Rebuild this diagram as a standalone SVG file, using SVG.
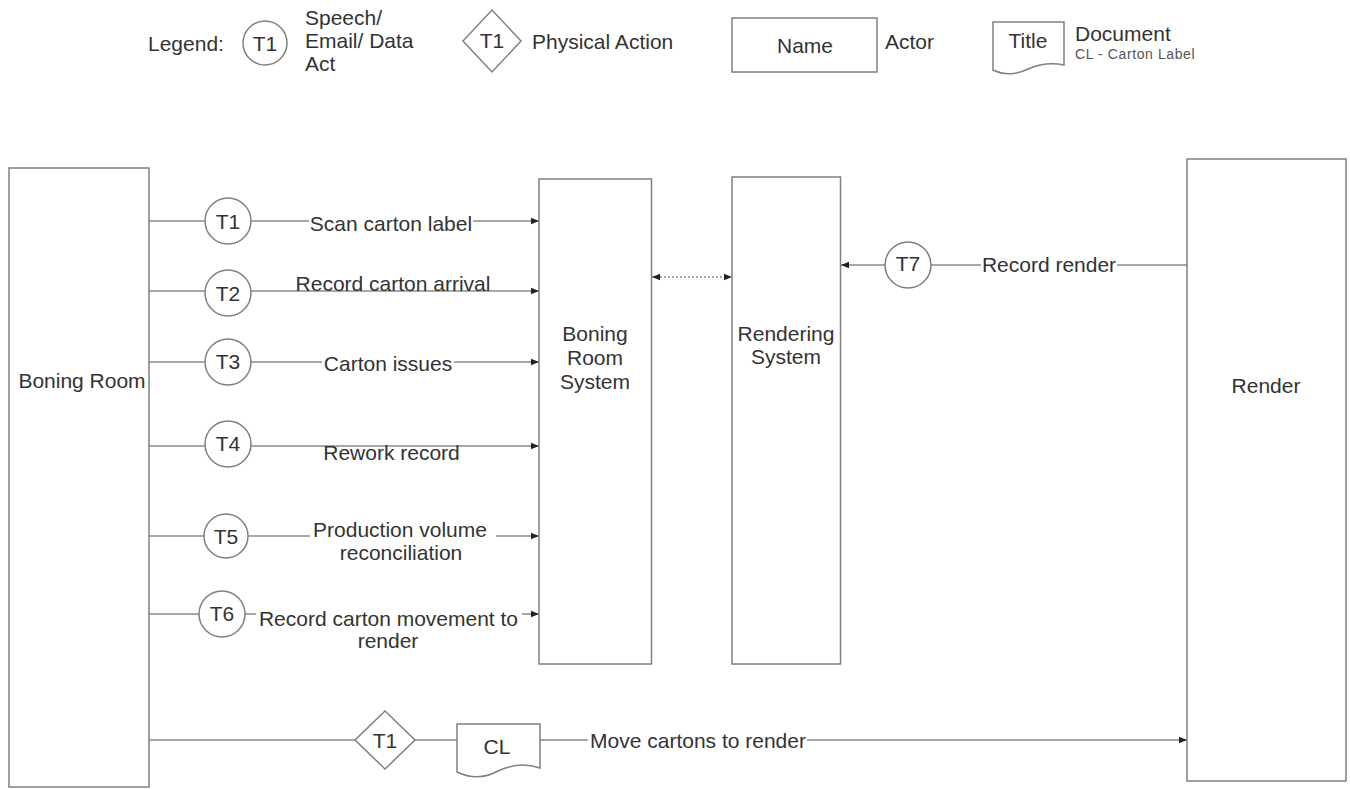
<svg xmlns="http://www.w3.org/2000/svg" width="1350" height="789" viewBox="0 0 1350 789">
<style>
.t{font-family:"Liberation Sans",Arial,sans-serif;font-size:21px;fill:#333}
.m{text-anchor:middle}
.sm{font-family:"Liberation Sans",Arial,sans-serif;font-size:14px;fill:#555;letter-spacing:0.6px}
.s{fill:#fff;stroke:#808080;stroke-width:1.5}
.c{stroke:#8a8a8a;stroke-width:1.5;fill:none}
.bg{fill:#fff}
</style>
<defs>
<marker id="a" viewBox="0 0 10 10" refX="10" refY="5" markerWidth="8" markerHeight="8" orient="auto-start-reverse" markerUnits="userSpaceOnUse"><path d="M0,1 L10,5 L0,9 Z" fill="#222"/></marker>
</defs>
<rect width="1350" height="789" fill="#fff"/>
<g id="legend">
<text class="t" x="148" y="51">Legend:</text>
<circle class="s" cx="265" cy="43" r="22"/>
<text class="t m" x="265" y="50.5">T1</text>
<text class="t" x="305" y="25">Speech/</text>
<text class="t" x="305" y="48">Email/ Data</text>
<text class="t" x="305" y="71">Act</text>
<path class="s" d="M492,10 L521,41 L492,72 L463,41 Z"/>
<text class="t m" x="492" y="48">T1</text>
<text class="t" x="532" y="49">Physical Action</text>
<rect class="s" x="732" y="18" width="145" height="54"/>
<text class="t m" x="805" y="53">Name</text>
<text class="t" x="885" y="49">Actor</text>
<path class="s" d="M993,22 H1064 V65 Q1046,61 1028,69 Q1010,78 993,70 Z"/>
<text class="t m" x="1028" y="48">Title</text>
<text class="t" x="1075" y="41">Document</text>
<text class="sm" x="1075" y="59">CL - Carton Label</text>
</g>
<g id="connectors">
<line class="c" x1="149" y1="221" x2="539" y2="221" marker-end="url(#a)"/>
<line class="c" x1="149" y1="291" x2="539" y2="291" marker-end="url(#a)"/>
<line class="c" x1="149" y1="362" x2="539" y2="362" marker-end="url(#a)"/>
<line class="c" x1="149" y1="446" x2="539" y2="446" marker-end="url(#a)"/>
<line class="c" x1="149" y1="536" x2="539" y2="536" marker-end="url(#a)"/>
<line class="c" x1="149" y1="614" x2="539" y2="614" marker-end="url(#a)"/>
<line class="c" x1="1187" y1="265" x2="841" y2="265" marker-end="url(#a)"/>
<line class="c" x1="652" y1="277" x2="732" y2="277" stroke-dasharray="2 2" marker-start="url(#a)" marker-end="url(#a)"/>
<line class="c" x1="149" y1="740" x2="1187" y2="740" marker-end="url(#a)"/>
<rect class="bg" x="309" y="213" width="164" height="22"/>
<text class="t m" x="391" y="231">Scan carton label</text>
<rect class="bg" x="294" y="273" width="198" height="16"/>
<text class="t m" x="393" y="291">Record carton arrival</text>
<rect class="bg" x="322" y="353" width="132" height="22"/>
<text class="t m" x="388" y="371">Carton issues</text>
<text class="t m" x="391.5" y="460">Rework record</text>
<rect class="bg" x="310" y="519" width="186" height="46"/>
<text class="t m" x="400" y="537">Production volume</text>
<text class="t m" x="401" y="560">reconciliation</text>
<rect class="bg" x="256" y="597" width="266" height="56"/>
<text class="t m" x="388.5" y="626">Record carton movement to</text>
<text class="t m" x="388" y="648">render</text>
<rect class="bg" x="981" y="255" width="136" height="22"/>
<text class="t m" x="1049" y="272">Record render</text>
<rect class="bg" x="588" y="731" width="219" height="22"/>
<text class="t m" x="698" y="748">Move cartons to render</text>
</g>
<g id="boning-room">
<rect class="s" x="9" y="168" width="140" height="619"/>
<text class="t m" x="82" y="388">Boning Room</text>
</g>
<g id="boning-room-system">
<rect class="s" x="539" y="179" width="112.5" height="485"/>
<text class="t m" x="595" y="341">Boning</text>
<text class="t m" x="595" y="365">Room</text>
<text class="t m" x="595" y="389">System</text>
</g>
<g id="rendering-system">
<rect class="s" x="732" y="177" width="108.5" height="487"/>
<text class="t m" x="786" y="341">Rendering</text>
<text class="t m" x="786" y="364">System</text>
</g>
<g id="render">
<rect class="s" x="1187" y="159" width="159" height="622"/>
<text class="t m" x="1266" y="393">Render</text>
</g>
<g id="t1"><circle class="s" cx="228" cy="221" r="23"/><text class="t m" x="228" y="228.5">T1</text></g>
<g id="t2"><circle class="s" cx="228" cy="293" r="23"/><text class="t m" x="228" y="300.5">T2</text></g>
<g id="t3"><circle class="s" cx="228" cy="362" r="23"/><text class="t m" x="228" y="369">T3</text></g>
<g id="t4"><circle class="s" cx="228" cy="444" r="23"/><text class="t m" x="228" y="450.5">T4</text></g>
<g id="t5"><circle class="s" cx="226" cy="536" r="22"/><text class="t m" x="226" y="544">T5</text></g>
<g id="t6"><circle class="s" cx="222" cy="614" r="23"/><text class="t m" x="222" y="620.5">T6</text></g>
<g id="t7"><circle class="s" cx="908" cy="265" r="23"/><text class="t m" x="908" y="271">T7</text></g>
<g id="t1-physical">
<path class="s" d="M385,711 L415,740 L385,769 L355,740 Z"/>
<text class="t m" x="385" y="748">T1</text>
</g>
<g id="cl-document">
<path class="s" d="M457,724 H540 V768 Q519,761 498,771 Q478,782 457,772 Z"/>
<text class="t m" x="497" y="754">CL</text>
</g>
</svg>
